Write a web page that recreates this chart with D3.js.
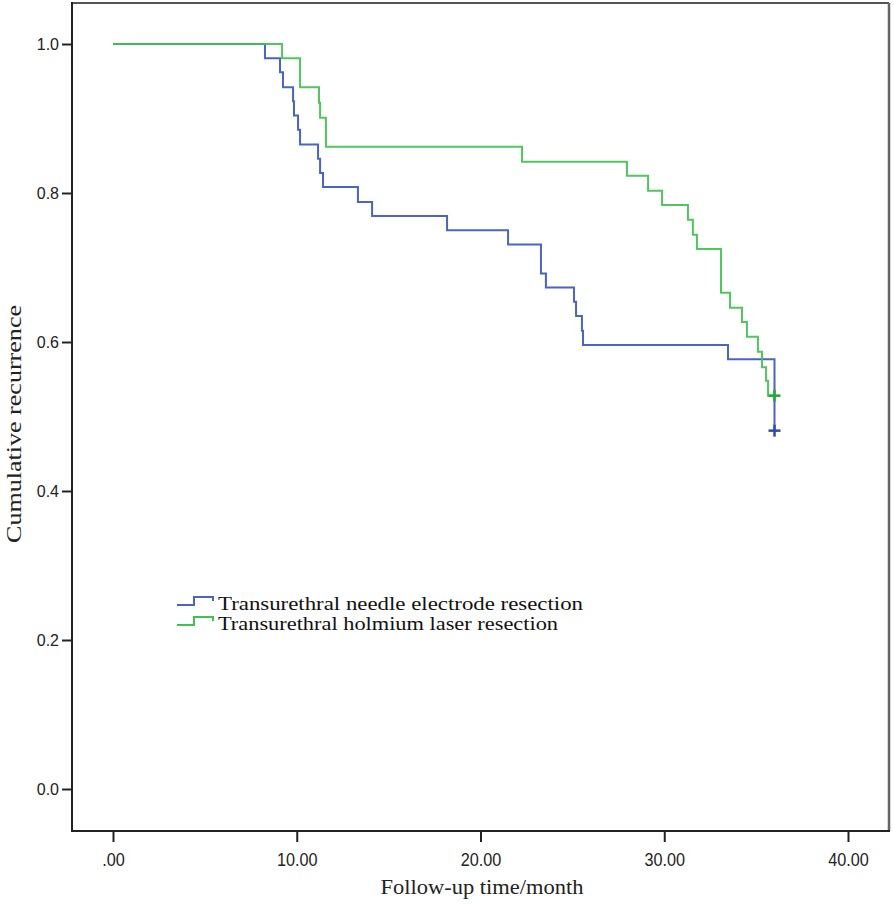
<!DOCTYPE html>
<html>
<head>
<meta charset="utf-8">
<script src="https://cdn.jsdelivr.net/npm/d3@7"></script>
<style>
  html, body { margin: 0; padding: 0; background: #fff; }
  svg { display: block; }
</style>
</head>
<body>
<svg id="chart" width="894" height="904"></svg>
<script>
// ---- data ----
const seriesNames = ["Transurethral needle electrode resection", "Transurethral holmium laser resection"];
const blueTimes = [0, 8.27, 9.09, 9.25, 9.80, 9.85, 10.07, 10.18, 11.16, 11.27, 11.43, 13.33, 14.10, 18.18, 21.50, 23.29, 23.56, 25.09, 25.20, 25.52, 25.58, 33.47, 36.0];
const blueValues = [1.0, 0.981, 0.962, 0.942, 0.923, 0.904, 0.885, 0.865, 0.846, 0.827, 0.808, 0.788, 0.769, 0.750, 0.731, 0.692, 0.673, 0.654, 0.635, 0.615, 0.596, 0.577, 0.481];
const greenTimes = [0, 9.20, 10.18, 11.21, 11.27, 11.59, 22.26, 27.97, 29.12, 29.88, 31.29, 31.56, 31.78, 33.09, 33.58, 34.23, 34.50, 35.10, 35.32, 35.54, 35.65, 36.0];
const greenValues = [1.0, 0.981, 0.942, 0.921, 0.901, 0.862, 0.842, 0.823, 0.803, 0.784, 0.764, 0.744, 0.725, 0.666, 0.646, 0.627, 0.607, 0.587, 0.566, 0.548, 0.528, 0.528];
const blueCensor = [[36.0, 0.481]];
const greenCensor = [[36.0, 0.528]];
const xTickValues = [0, 10, 20, 30, 40];
const xTickLabels = [".00", "10.00", "20.00", "30.00", "40.00"];
const yTickValues = [0, 0.2, 0.4, 0.6, 0.8, 1.0];
const yTickLabels = ["0.0", "0.2", "0.4", "0.6", "0.8", "1.0"];
const xTitle = "Follow-up time/month";
const yTitle = "Cumulative recurrence";

// ---- layout ----
const svg = d3.select("#chart");
const frame = { left: 72, right: 889, top: 3, bottom: 831 };
const x = d3.scaleLinear().domain([0, 40]).range([113, 848]);
const y = d3.scaleLinear().domain([0, 1]).range([789, 44]);
const blueColor = "#4a63c6";
const greenColor = "#42c150";

// frame
svg.append("line").attr("x1", frame.left).attr("x2", frame.right).attr("y1", frame.top).attr("y2", frame.top)
  .attr("stroke", "#555").attr("stroke-width", 2);
svg.append("line").attr("x1", frame.right).attr("x2", frame.right).attr("y1", frame.top).attr("y2", frame.bottom)
  .attr("stroke", "#666").attr("stroke-width", 2.5);

// x axis
const xAxis = d3.axisBottom(x).tickValues(xTickValues)
  .tickFormat((d, i) => xTickLabels[i]).tickSize(11).tickPadding(8);
const gx = svg.append("g").attr("transform", `translate(0,${frame.bottom})`).call(xAxis);
gx.select(".domain").remove();
gx.selectAll(".tick line").attr("stroke", "#222").attr("stroke-width", 2);
gx.selectAll(".tick text").attr("font-family", "'Liberation Sans', Arial, sans-serif")
  .attr("font-size", 18).attr("fill", "#222").attr("dy", "0.9em")
  .each(function () {
    const w = this.getComputedTextLength();
    d3.select(this).attr("textLength", w * 0.9).attr("lengthAdjust", "spacingAndGlyphs");
  });

// y axis
const yAxis = d3.axisLeft(y).tickValues(yTickValues)
  .tickFormat((d, i) => yTickLabels[i]).tickSize(10).tickPadding(3);
const gy = svg.append("g").attr("transform", `translate(${frame.left},0)`).call(yAxis);
gy.select(".domain").remove();
gy.selectAll(".tick line").attr("stroke", "#222").attr("stroke-width", 2);
gy.selectAll(".tick text").attr("font-family", "'Liberation Sans', Arial, sans-serif")
  .attr("font-size", 16).attr("fill", "#222");

// axis lines
svg.append("line").attr("x1", frame.left).attr("x2", frame.left).attr("y1", frame.top - 1).attr("y2", frame.bottom + 1)
  .attr("stroke", "#222").attr("stroke-width", 2);
svg.append("line").attr("x1", frame.left - 1).attr("x2", frame.right + 1).attr("y1", frame.bottom).attr("y2", frame.bottom)
  .attr("stroke", "#222").attr("stroke-width", 2);

// titles
svg.append("text").attr("x", 482).attr("y", 894).attr("text-anchor", "middle")
  .attr("font-family", "'Liberation Serif', 'Times New Roman', serif").attr("font-size", 20).attr("fill", "#222")
  .attr("textLength", 203).attr("lengthAdjust", "spacingAndGlyphs").text(xTitle);
svg.append("text").attr("transform", "translate(21,424) rotate(-90)").attr("text-anchor", "middle")
  .attr("font-family", "'Liberation Serif', 'Times New Roman', serif").attr("font-size", 21).attr("fill", "#222")
  .attr("textLength", 238).attr("lengthAdjust", "spacingAndGlyphs").text(yTitle);

// curves
const line = d3.line().x(d => x(d[0])).y(d => y(d[1])).curve(d3.curveStepAfter);
const blueData = blueTimes.map((t, i) => [t, blueValues[i]]);
const greenData = greenTimes.map((t, i) => [t, greenValues[i]]);
svg.append("path").datum(blueData).attr("d", line).attr("fill", "none")
  .attr("stroke", blueColor).attr("stroke-width", 2);
svg.append("path").datum(greenData).attr("d", line).attr("fill", "none")
  .attr("stroke", greenColor).attr("stroke-width", 2).attr("stroke-opacity", 0.92);

// censor marks
function plus(data, color) {
  const g = svg.append("g");
  data.forEach(d => {
    const cx = x(d[0]), cy = y(d[1]);
    g.append("line").attr("x1", cx - 6).attr("x2", cx + 6).attr("y1", cy).attr("y2", cy)
      .attr("stroke", color).attr("stroke-width", 2.5);
    g.append("line").attr("x1", cx).attr("x2", cx).attr("y1", cy - 6).attr("y2", cy + 6)
      .attr("stroke", color).attr("stroke-width", 2.5);
  });
}
plus(blueCensor, "#2f4ab4");
plus(greenCensor, "#22a834");

// legend
const legendColors = [blueColor, greenColor];
const legendWidths = [365, 340];
seriesNames.forEach((name, i) => {
  const by = 605 + i * 20;
  const sym = d3.path();
  sym.moveTo(177, by);
  sym.lineTo(194, by);
  sym.lineTo(194, by - 8);
  sym.lineTo(213, by - 8);
  sym.lineTo(213, by - 4);
  svg.append("path").attr("d", sym.toString()).attr("fill", "none")
    .attr("stroke", legendColors[i]).attr("stroke-width", 2);
  svg.append("text").attr("x", 218).attr("y", by + 5)
    .attr("font-family", "'Liberation Serif', 'Times New Roman', serif").attr("font-size", 19).attr("fill", "#111")
    .attr("textLength", legendWidths[i]).attr("lengthAdjust", "spacingAndGlyphs").text(name);
});
</script>
</body>
</html>
